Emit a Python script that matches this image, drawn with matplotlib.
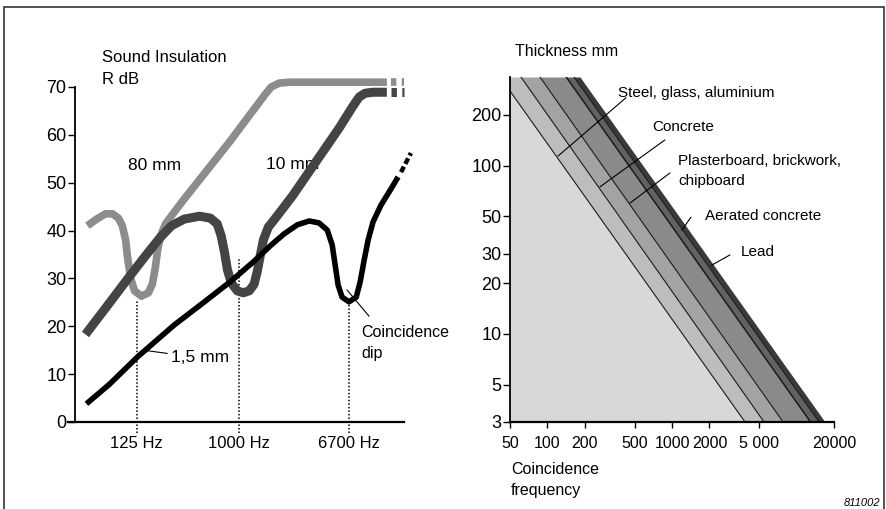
"""Sound insulation vs frequency with coincidence dips, and coincidence
frequency vs panel thickness for common building materials."""

import matplotlib
matplotlib.use("Agg")
import matplotlib.pyplot as plt
from matplotlib.patches import Rectangle
from matplotlib.ticker import FixedLocator, NullLocator

SANS = ["Liberation Sans", "DejaVu Sans"]

# ---- left panel: R dB against a schematic frequency position ----
db_ticks = [0, 10, 20, 30, 40, 50, 60, 70]
dip_pos = [1.89, 5.0, 8.32]
dip_labels = ["125 Hz", "1000 Hz", "6700 Hz"]
dip_top = [25.5, 34.3, 24.4]

u_80 = [0.39, 0.67, 0.94, 1.15, 1.33, 1.45, 1.55, 1.61, 1.70, 1.82, 2.03, 2.24,
        2.36, 2.45, 2.52, 2.61, 2.76, 3.03, 3.33, 4.70, 5.79, 5.97, 6.21, 6.52, 9.48]
db_80 = [41.0, 42.4, 43.5, 43.5, 42.6, 41.0, 38.0, 34.3, 30.1, 27.4, 26.3, 27.0,
         28.8, 32.2, 35.9, 38.9, 41.4, 43.9, 46.6, 58.5, 68.5, 70.0, 70.8, 71.0, 71.0]

u_10 = [0.33, 0.94, 1.61, 2.15, 2.58, 2.94, 3.33, 3.79, 4.12, 4.33, 4.45, 4.55,
        4.64, 4.76, 4.94, 5.12, 5.30, 5.45, 5.55, 5.64, 5.73, 5.88, 6.12, 6.61,
        7.18, 8.03, 8.45, 8.64, 8.82, 9.06, 9.48]
db_10 = [18.3, 23.8, 29.9, 34.7, 38.4, 41.0, 42.4, 43.0, 42.6, 41.4, 38.9, 35.5,
         31.8, 29.0, 27.4, 27.0, 27.4, 28.8, 31.6, 34.9, 38.0, 40.7, 42.8, 47.2,
         52.9, 61.4, 66.0, 67.9, 68.7, 68.9, 68.9]

u_15 = [0.36, 1.06, 1.91, 3.03, 3.94, 4.76, 5.45, 5.97, 6.36, 6.76, 7.12, 7.42,
        7.67, 7.82, 7.91, 8.00, 8.12, 8.33, 8.55, 8.67, 8.79, 8.91, 9.06, 9.30,
        9.64, 9.82]
db_15 = [3.8, 7.9, 13.6, 20.3, 25.1, 29.5, 33.6, 37.0, 39.3, 41.2, 42.0, 41.6,
         40.1, 37.0, 32.8, 28.6, 26.1, 25.1, 26.1, 29.3, 33.8, 38.0, 41.8, 45.3,
         49.1, 51.2]

# broken continuation at the right-hand end of each curve
tail_80_u, tail_80_db = [9.6, 10.0], [71.0, 71.0]
tail_10_u, tail_10_db = [9.6, 10.0], [68.9, 68.9]
tail_15_u, tail_15_db = [9.91, 10.21], [52.2, 56.2]

# ---- right panel: coincidence frequency against thickness ----
freq_ticks = [50, 100, 200, 500, 1000, 2000, 5000, 20000]
freq_labels = ["50", "100", "200", "500", "1000", "2000", "5 000", "20000"]
mm_ticks = [3, 5, 10, 20, 30, 50, 100, 200]
mm_range = [3, 336]
# band edges: frequency at 3 mm and at 336 mm thickness
edge_f_thin = [3860, 5490, 7800, 12960, 15200, 16950]
edge_f_thick = [41.6, 61.2, 87.0, 141.3, 163.3, 182.5]
materials = ["Steel, glass, aluminium", "Concrete",
             "Plasterboard, brickwork,\nchipboard", "Aerated concrete", "Lead"]
band_colors = ["#bdbdbd", "#a3a3a3", "#8a8a8a", "#626262", "#3a3a3a"]
base_color = "#d8d8d8"
# label position, leader start and leader end (frequency, thickness)
label_xy = [(369, 270), (690, 170), (1117, 93), (1834, 50.2), (3597, 30.7)]
leader_from = [(427, 253), (877, 142), (964, 90.5), (1420, 49.4), (2925, 29.5)]
leader_to = [(121.6, 114), (264, 74.8), (461, 60), (1200, 41.4), (2080, 25.6)]

W, H = 886, 509


def px_box(left, top, right, bottom):
    return [left / W, 1 - bottom / H, (right - left) / W, (bottom - top) / H]


fig = plt.figure(figsize=(W / 100, H / 100), dpi=100)
fig.patch.set_facecolor("white")

# -------- left panel --------
ax1 = fig.add_axes(px_box(68, 422 - 76 * 4.786, 404, 422))
ax1.set_xlim(-0.2, 10.0)
ax1.set_ylim(0, 76)
for side in ("top", "right"):
    ax1.spines[side].set_visible(False)
ax1.spines["left"].set_position(("data", 0))
ax1.spines["left"].set_bounds(0, 70)
ax1.spines["left"].set_linewidth(1.3)
ax1.spines["bottom"].set_linewidth(1.6)
ax1.set_yticks(db_ticks)
ax1.tick_params(axis="y", direction="out", length=5, width=1, pad=1, labelsize=13)
ax1.set_xticks(dip_pos)
ax1.set_xticklabels(dip_labels)
ax1.tick_params(axis="x", length=0, pad=10, labelsize=12)
for lab in ax1.get_xticklabels() + ax1.get_yticklabels():
    lab.set_family(SANS)

ax1.vlines(dip_pos, -2.2, dip_top, colors="black", linestyles=(0, (1, 1.3)),
           lw=1.1, zorder=2, clip_on=False)

ax1.plot(u_80, db_80, color="#8c8c8c", lw=5.5, solid_joinstyle="round",
         solid_capstyle="butt", zorder=3)
ax1.plot(tail_80_u, tail_80_db, color="#8c8c8c", lw=5.5, dashes=(0.7, 0.7),
         dash_capstyle="butt", zorder=3, clip_on=False)
ax1.plot(u_10, db_10, color="#444444", lw=6.5, solid_joinstyle="round",
         solid_capstyle="butt", zorder=4)
ax1.plot(tail_10_u, tail_10_db, color="#444444", lw=6.5, dashes=(0.6, 0.6),
         dash_capstyle="butt", zorder=4, clip_on=False)
ax1.plot(u_15, db_15, color="black", lw=4, solid_joinstyle="round",
         solid_capstyle="butt", zorder=5)
ax1.plot(tail_15_u, tail_15_db, color="black", lw=3.2, dashes=(1.4, 0.7),
         dash_capstyle="butt", zorder=5, clip_on=False)

ax1.text(1.61, 53.5, "80 mm", family=SANS, fontsize=12.5, va="center", zorder=1)
ax1.text(5.82, 53.9, "10 mm", family=SANS, fontsize=12.5, va="center", zorder=1)
ax1.annotate("1,5 mm", xy=(2.2, 14.9), xytext=(2.94, 13.4), family=SANS,
             fontsize=12.5, va="center",
             arrowprops=dict(arrowstyle="-", lw=0.8, shrinkA=1, shrinkB=0))
ax1.annotate("", xy=(8.27, 27.6), xytext=(8.94, 22.1),
             arrowprops=dict(arrowstyle="-", lw=0.8, shrinkA=0, shrinkB=0))
ax1.text(8.70, 20.3, "Coincidence\ndip", family=SANS, fontsize=11.5,
         va="top", linespacing=1.5, clip_on=False)

fig.text(102 / W, 1 - 58 / H, "Sound Insulation", family=SANS, fontsize=12,
         va="center")
fig.text(102 / W, 1 - 79 / H, "R dB", family=SANS, fontsize=12, va="center")

# -------- right panel --------
ax2 = fig.add_axes(px_box(510, 77, 834, 422))
ax2.set_xscale("log")
ax2.set_yscale("log")
ax2.set_xlim(freq_ticks[0], freq_ticks[-1])
ax2.set_ylim(mm_range)
for side in ("top", "right"):
    ax2.spines[side].set_visible(False)
ax2.spines["left"].set_linewidth(1.3)
ax2.spines["bottom"].set_linewidth(1.6)

ax2.fill_betweenx(mm_range, freq_ticks[0], [edge_f_thin[0], edge_f_thick[0]],
                  color=base_color, lw=0, zorder=1)
for i, col in enumerate(band_colors):
    ax2.fill_betweenx(mm_range, [edge_f_thin[i], edge_f_thick[i]],
                      [edge_f_thin[i + 1], edge_f_thick[i + 1]],
                      color=col, lw=0, zorder=1)
for i in range(len(band_colors)):
    ax2.plot([edge_f_thin[i], edge_f_thick[i]], mm_range, color="#1a1a1a",
             lw=0.8 if i != 3 else 1.1, zorder=2)

ax2.xaxis.set_major_locator(FixedLocator(freq_ticks))
ax2.xaxis.set_minor_locator(NullLocator())
ax2.set_xticklabels(freq_labels)
ax2.yaxis.set_major_locator(FixedLocator(mm_ticks))
ax2.yaxis.set_minor_locator(NullLocator())
ax2.set_yticklabels([str(t) for t in mm_ticks])
ax2.tick_params(axis="x", direction="out", length=4, width=1, pad=6, labelsize=11.5)
ax2.tick_params(axis="y", direction="out", length=5, width=1, pad=1, labelsize=13)
for lab in ax2.get_xticklabels() + ax2.get_yticklabels():
    lab.set_family(SANS)

for name, xy, p0, p1 in zip(materials, label_xy, leader_from, leader_to):
    ax2.annotate("", xy=p1, xytext=p0,
                 arrowprops=dict(arrowstyle="-", lw=0.8, shrinkA=0, shrinkB=0),
                 zorder=3)
    ax2.text(xy[0], xy[1], name, family=SANS, fontsize=11, va="center",
             linespacing=1.55, clip_on=False)

fig.text(515 / W, 1 - 52 / H, "Thickness mm", family=SANS, fontsize=11.5,
         va="center")
fig.text(511 / W, 1 - 480 / H, "Coincidence\nfrequency", family=SANS,
         fontsize=11.5, va="center", linespacing=1.45)
fig.text(880 / W, 1 - 503 / H, "811002", family=SANS, fontsize=8,
         style="italic", ha="right", va="center")

fig.patches.append(Rectangle((4 / W, -0.05), 880 / W, 1.05 - 7 / H,
                             transform=fig.transFigure, fill=False,
                             edgecolor="#333333", lw=1.2))

fig.savefig("out.png", dpi=100)
